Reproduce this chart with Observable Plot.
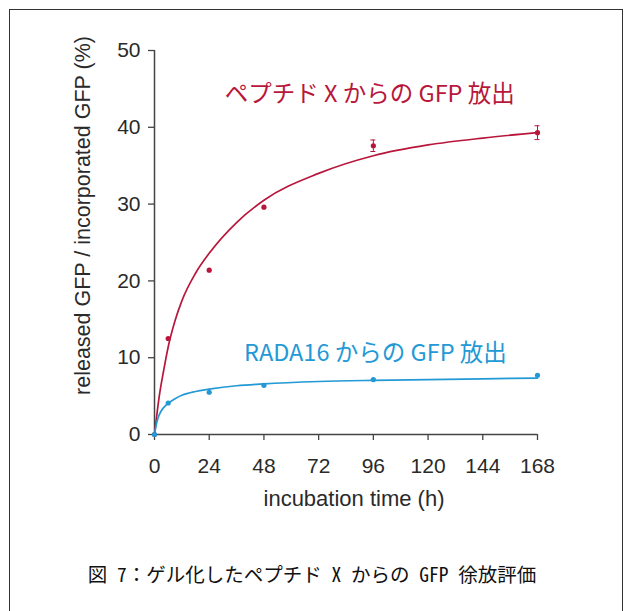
<!DOCTYPE html>
<html><head><meta charset="utf-8">
<script src="https://cdn.jsdelivr.net/npm/d3@7"></script>
<script src="https://cdn.jsdelivr.net/npm/@observablehq/plot@0.6"></script>
<style>
html,body{margin:0;padding:0;width:625px;height:611px;overflow:hidden;background:#fff;}
#frame{position:absolute;left:9px;top:9px;width:614px;height:640px;border:1px solid #333;box-sizing:border-box;}
#chart{position:absolute;left:0;top:0;}
#caption{position:absolute;left:0;width:624px;top:563px;text-align:center;font-family:"Noto Sans Mono CJK JP","Noto Sans CJK JP",sans-serif;font-size:19.5px;line-height:22px;color:#111;white-space:nowrap;}
</style></head><body>
<div id="frame"></div>
<div id="chart"></div>
<div id="caption"></div>
<script>
// measured points
const sampleHours = [0, 6, 24, 48, 96, 168];
const peptideXRelease = [0, 12.5, 21.4, 29.6, 37.6, 39.3];
const peptideXError = [0, 0, 0, 0, 0.75, 0.9];
const rada16Release = [0, 4.1, 5.5, 6.4, 7.15, 7.7];
// fitted curves
const fitHoursX = [0, 1, 2, 4, 6, 9, 12, 18, 24, 36, 48, 72, 96, 120, 144, 168];
const fitPeptideX = [0, 2.5, 4.8, 8.3, 11.4, 14.8, 17.4, 21.0, 23.6, 27.6, 30.5, 34.0, 36.3, 37.7, 38.6, 39.3];
const fitHoursR = [0, 1, 2, 3, 4, 6, 9, 12, 18, 24, 36, 48, 72, 96, 120, 144, 168];
const fitRada16 = [0, 1.6, 2.5, 3.1, 3.5, 4.05, 4.65, 5.1, 5.6, 5.9, 6.35, 6.6, 6.9, 7.05, 7.15, 7.25, 7.35];
// ticks and texts
const xTicks = [0, 24, 48, 72, 96, 120, 144, 168];
const yTicks = [0, 10, 20, 30, 40, 50];
const seriesNames = ["ペプチド X からの GFP 放出", "RADA16 からの GFP 放出"];
const seriesLabelHour = [94.4, 96.9];
const seriesLabelValue = [44.3, 10.5];
const xLabel = "incubation time (h)";
const yLabel = "released GFP / incorporated GFP (%)";
const caption = "図 7：ゲル化したペプチド X からの GFP 徐放評価";

const RED = "#b8173b";
const BLUE = "#2399d6";
const AXIS = "#444";
const INK = "#2a2a2a";

const ptsX = sampleHours.map((t, i) => ({t, v: peptideXRelease[i], e: peptideXError[i]}));
const ptsR = sampleHours.map((t, i) => ({t, v: rada16Release[i]}));
const errX = ptsX.filter(d => d.e > 0);
const curveX = fitHoursX.map((t, i) => ({t, v: fitPeptideX[i]}));
const curveR = fitHoursR.map((t, i) => ({t, v: fitRada16[i]}));
const labelData = seriesNames.map((s, i) => ({s, t: seriesLabelHour[i], v: seriesLabelValue[i], c: i}));

const chart = Plot.plot({
  width: 625, height: 520,
  marginLeft: 154, marginRight: 88, marginTop: 50, marginBottom: 86,
  x: {domain: [0, 168]},
  y: {domain: [0, 50]},
  style: {fontFamily: "'Liberation Sans', Arial, sans-serif", fontSize: "21px", color: INK, background: "transparent", overflow: "visible"},
  marks: [
    Plot.axisX({ticks: xTicks, tickSize: 6, tickPadding: 17.5, label: null, stroke: AXIS, fill: INK, strokeWidth: 1.3, fontSize: 21}),
    Plot.axisY({ticks: yTicks, tickSize: 6, tickPadding: 8, label: null, stroke: AXIS, fill: INK, strokeWidth: 1.3, fontSize: 21}),
    Plot.ruleX([0], {y1: 0, y2: 50, stroke: AXIS, strokeWidth: 1.5}),
    Plot.ruleY([0], {x1: 0, x2: 168, stroke: AXIS, strokeWidth: 1.5}),
    Plot.text([xLabel], {text: d => d, frameAnchor: "bottom", dx: 8, dy: 71, lineAnchor: "bottom", fontSize: 22, fill: INK}),
    Plot.text([yLabel], {text: d => d, frameAnchor: "left", rotate: -90, dx: -71, dy: -27, lineAnchor: "middle", textAnchor: "middle", fontSize: 21.5, fill: INK}),
    Plot.line(curveX, {x: "t", y: "v", stroke: RED, strokeWidth: 1.7, curve: "monotone-x"}),
    Plot.line(curveR, {x: "t", y: "v", stroke: BLUE, strokeWidth: 1.7, curve: "monotone-x"}),
    Plot.ruleX(errX, {x: "t", y1: d => d.v - d.e, y2: d => d.v + d.e, stroke: RED, strokeWidth: 1}),
    Plot.ruleY(errX, {y: d => d.v + d.e, x1: "t", x2: "t", insetLeft: -2.5, insetRight: -2.5, stroke: RED, strokeWidth: 1}),
    Plot.ruleY(errX, {y: d => d.v - d.e, x1: "t", x2: "t", insetLeft: -2.5, insetRight: -2.5, stroke: RED, strokeWidth: 1}),
    Plot.dot(ptsX, {x: "t", y: "v", r: 2.6, fill: RED}),
    Plot.dot(ptsR, {x: "t", y: "v", r: 2.6, fill: BLUE}),
    Plot.text(labelData, {x: "t", y: "v", text: "s", fill: d => d.c === 0 ? RED : BLUE, fontSize: 23.5, fontFamily: "'Noto Sans CJK JP', sans-serif", textAnchor: "middle", lineAnchor: "middle"})
  ]
});
document.getElementById("chart").appendChild(chart);
document.getElementById("caption").textContent = caption;
</script>
</body></html>
